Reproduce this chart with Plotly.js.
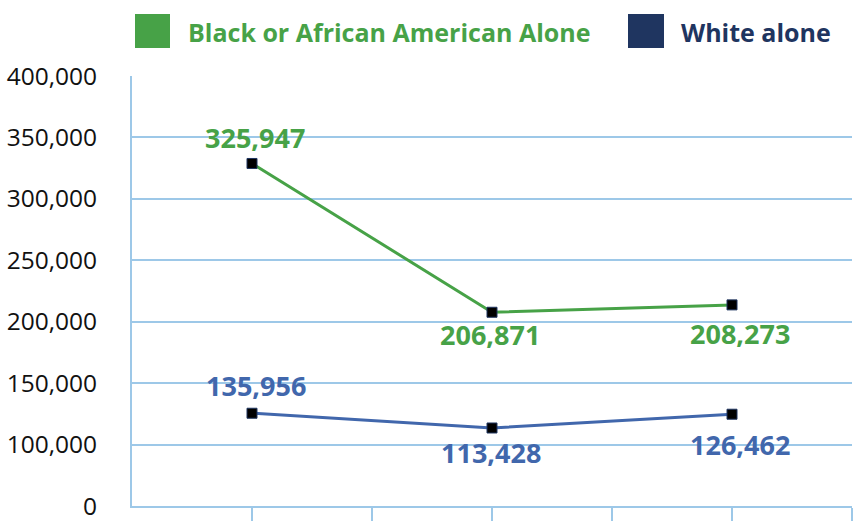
<!DOCTYPE html>
<html>
<head>
<meta charset="utf-8">
<script src="https://cdn.plot.ly/plotly-3.0.1.min.js"></script>
<style>html,body{margin:0;padding:0;background:#fff;}#chart{width:853px;height:521px;}</style>
</head>
<body>
<div id="chart"></div>
<script>
// ---- data ----
var seriesNames = ['Black or African American Alone', 'White alone'];
var periods = [0, 1, 2];
var blackValues = [328800, 207700, 213700];
var whiteValues = [125500, 113500, 124700];
var blackLabels = ['325,947', '206,871', '208,273'];
var whiteLabels = ['135,956', '113,428', '126,462'];
var yTickVals = [50000, 100000, 150000, 200000, 250000, 300000, 350000, 400000];
var yTickText = ['0', '100,000', '150,000', '200,000', '250,000', '300,000', '350,000', '400,000'];

// ---- styles ----
var GREEN = '#47A247';
var BLUE = '#4167AC';
var NAVY = '#1F3560';
var GRID = '#9DC8E8';
var FONT = 'Open Sans, sans-serif';

function lineTrace(name, ys, color) {
  return {
    type: 'scatter', mode: 'lines+markers', name: name,
    x: periods, y: ys,
    line: {color: color, width: 3},
    marker: {symbol: 'square', size: 10, color: '#000', line: {color: NAVY, width: 1}},
    showlegend: false, hoverinfo: 'x+y'
  };
}

var traces = [lineTrace(seriesNames[0], blackValues, GREEN), lineTrace(seriesNames[1], whiteValues, BLUE)];

var shifts = [[{x: 3, y: 26}, {x: -2, y: -22}, {x: 8, y: -29}],
              [{x: 4, y: 28}, {x: -1, y: -25}, {x: 8, y: -30}]];
var annotations = [];
[[blackValues, blackLabels, GREEN], [whiteValues, whiteLabels, BLUE]].forEach(function (s, si) {
  s[0].forEach(function (v, i) {
    annotations.push({
      x: periods[i], y: v, xref: 'x', yref: 'y', text: s[1][i], showarrow: false,
      xanchor: 'center', yanchor: 'middle', xshift: shifts[si][i].x, yshift: shifts[si][i].y,
      font: {family: FONT, size: 27, color: s[2], weight: 700}
    });
  });
});

// legend (drawn as shapes + text)
var L = 132, W = 720, B = 505.7, H = 429.7;
function px(x) { return (x - L) / W; }
function py(y) { return (B - y) / H; }
var legendItems = [
  {name: seriesNames[0], sq: [135, 170], tx: 186, fill: GREEN, text: GREEN},
  {name: seriesNames[1], sq: [628, 664], tx: 679, fill: NAVY, text: NAVY}
];
var shapes = [];
legendItems.forEach(function (it) {
  shapes.push({type: 'rect', xref: 'paper', yref: 'paper', x0: px(it.sq[0]), x1: px(it.sq[1]),
    y0: py(48), y1: py(14), fillcolor: it.fill, line: {width: 0}});
  annotations.push({xref: 'paper', yref: 'paper', x: px(it.tx), y: py(32), xanchor: 'left', yanchor: 'middle',
    text: it.name, showarrow: false, font: {family: FONT, size: 25, color: it.text, weight: 700}});
});

var layout = {
  width: 853, height: 521,
  margin: {l: L, r: 853 - L - W, t: 76, b: 521 - B},
  paper_bgcolor: '#fff', plot_bgcolor: '#fff',
  showlegend: false,
  font: {family: FONT, color: '#111'},
  xaxis: {
    type: 'linear', range: [-0.5, 2.5], tickmode: 'array',
    tickvals: [0, 0.5, 1, 1.5, 2, 2.5], showticklabels: false,
    ticks: 'outside', ticklen: 16, tickwidth: 2, tickcolor: GRID,
    showgrid: false, zeroline: false, showline: true, linecolor: GRID, linewidth: 2
  },
  yaxis: {
    range: [50000, 400000], tickmode: 'array', tickvals: yTickVals, ticktext: yTickText,
    showgrid: true, gridcolor: GRID, gridwidth: 2, zeroline: false,
    showline: true, linecolor: GRID, linewidth: 2, ticks: '',
    ticklabelstandoff: 28, ticklabeloverflow: 'allow',
    tickfont: {family: FONT, size: 24.5, color: '#111'}
  },
  shapes: shapes,
  annotations: annotations
};

Plotly.newPlot('chart', traces, layout, {displayModeBar: false, staticPlot: true});
</script>
</body>
</html>
